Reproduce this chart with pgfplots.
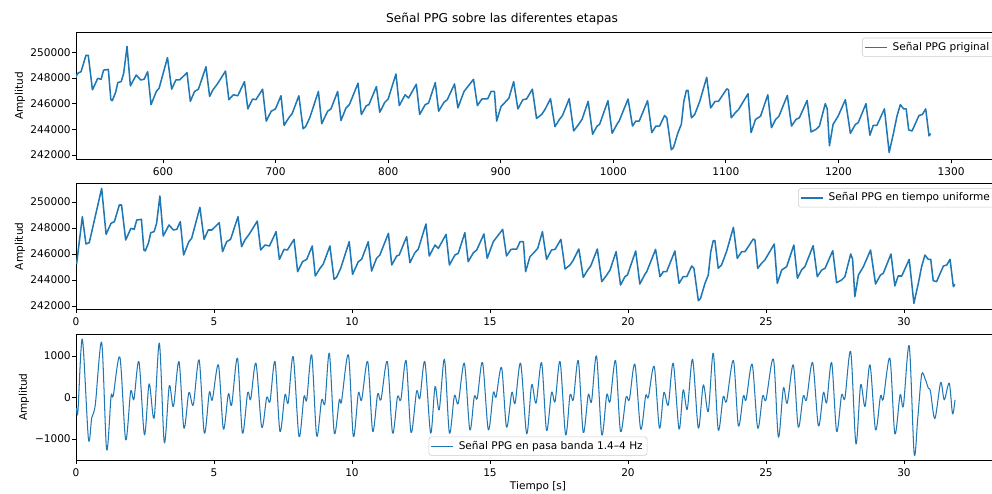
\documentclass[border=0pt]{standalone}
\usepackage{fontspec}
\setmainfont{DejaVu Sans}
\usepackage{pgfplots}
\usepackage{pgfplotstable}
\pgfplotsset{compat=1.18}
\definecolor{mplblue}{HTML}{1F77B4}

\pgfplotstableread{
t v
0.02 245205
0.23 248872
0.36 246769
0.48 246872
0.93 251051
1.09 247513
1.27 248359
1.39 248487
1.57 249769
1.65 249769
1.80 247077
1.99 247974
2.11 247897
2.20 248615
2.37 248667
2.46 246308
2.51 246231
2.63 246872
2.71 247641
2.83 247718
2.92 248359
3.04 250461
3.16 247384
3.37 248231
3.53 247846
3.65 247897
3.78 248487
3.90 245923
4.09 246949
4.19 247205
4.49 249590
4.64 247128
4.79 247846
4.92 247846
5.07 248154
5.19 248410
5.31 246180
5.46 246949
5.60 247128
5.87 248872
6.00 246564
6.12 247077
6.28 247538
6.57 248538
6.69 246308
6.85 246692
7.01 246615
7.25 247718
7.37 245590
7.54 246359
7.66 246308
7.90 247128
8.03 244641
8.21 245410
8.36 245590
8.56 246615
8.67 244308
8.84 244897
8.96 245231
9.20 246615
9.35 244051
9.44 244205
9.59 244897
9.90 246949
10.02 244436
10.23 245410
10.35 245590
10.59 246949
10.71 244692
10.89 245667
11.01 245923
11.32 247590
11.44 245154
11.62 245846
11.71 245923
11.98 247333
12.10 245333
12.28 246102
12.40 246359
12.68 248308
12.80 245846
13.01 246692
13.13 246436
13.41 247513
13.53 245154
13.73 245923
13.85 246051
14.09 247641
14.21 245410
14.40 246102
14.52 246308
14.78 247538
14.90 245667
15.12 246949
15.46 247897
15.60 245846
15.76 246359
15.97 246385
16.09 246949
16.21 246949
16.29 244641
16.45 245795
16.57 246051
16.73 246436
16.90 247718
17.05 245590
17.23 246308
17.36 246359
17.57 247128
17.72 244846
17.90 245154
18.02 245538
18.22 246385
18.38 244205
18.54 244769
18.65 245077
18.89 246385
19.05 243872
19.23 244385
19.35 244769
19.57 246179
19.73 243615
19.89 244256
19.98 244385
20.28 246231
20.43 243692
20.62 244462
20.68 244641
21.00 246359
21.16 244256
21.28 244641
21.40 244641
21.70 246231
21.85 243744
22.00 244256
22.13 244256
22.31 245077
22.39 244897
22.55 242410
22.63 242590
22.79 243744
22.91 244385
23.00 246179
23.09 247025
23.15 247025
23.27 244897
23.39 245154
23.57 246179
23.82 248051
23.96 245666
24.12 246179
24.24 246179
24.54 247154
24.60 247077
24.70 244897
24.84 245282
24.96 245538
25.30 246769
25.41 243744
25.57 244769
25.75 245026
26.01 246692
26.14 244128
26.29 244769
26.41 245026
26.71 246641
26.86 244256
27.02 244769
27.14 244897
27.42 246256
27.56 243795
27.74 243999
27.86 244256
28.07 245999
28.14 245590
28.22 242718
28.35 244385
28.53 245026
28.79 246308
28.97 243692
29.15 244385
29.25 244513
29.53 245999
29.67 243538
29.79 244308
29.92 244308
30.19 245590
30.36 242205
30.52 243744
30.64 245026
30.76 245923
30.88 245590
30.97 245590
31.06 243949
31.18 243872
31.43 245077
31.55 245154
31.67 245590
31.79 243487
31.85 243666
}\ppg

\pgfplotstableread{
t v
0.02 -257
0.07 -337
0.23 1405
0.45 -996
0.57 -490
0.70 -170
0.93 1325
1.11 -1261
1.27 24
1.35 40
1.59 972
1.80 -1020
1.98 145
2.10 -40
2.28 867
2.48 -900
2.65 329
2.83 -498
3.02 1309
3.20 -1084
3.38 281
3.53 -217
3.73 867
3.91 -739
4.09 120
4.25 -177
4.46 908
4.65 -859
4.83 120
4.94 -56
5.16 787
5.34 -763
5.52 88
5.64 -177
5.85 948
6.03 -859
6.22 120
6.33 -40
6.52 827
6.73 -715
6.91 8
7.03 -96
7.21 867
7.39 -819
7.57 64
7.69 -120
7.87 988
8.08 -940
8.26 24
8.36 -56
8.54 1028
8.72 -924
8.90 -56
9.02 -137
9.18 1068
9.36 -859
9.54 -56
9.62 -96
9.87 1028
10.05 -940
10.23 104
10.35 -56
10.57 867
10.75 -819
10.93 88
11.05 -56
11.28 867
11.47 -859
11.65 24
11.77 -56
11.96 892
12.14 -843
12.34 145
12.46 -16
12.64 867
12.85 -859
13.01 265
13.16 -297
13.35 924
13.53 -859
13.71 40
13.85 -137
14.07 827
14.27 -779
14.43 24
14.54 -16
14.73 843
14.94 -779
15.12 120
15.22 8
15.42 723
15.60 -715
15.79 120
15.91 -137
16.11 827
16.33 -875
16.51 305
16.67 -137
16.87 843
17.05 -795
17.23 120
17.36 -96
17.54 867
17.74 -900
17.90 64
18.02 -56
18.20 892
18.38 -843
18.56 64
18.68 -96
18.86 1004
19.05 -900
19.23 64
19.35 -96
19.55 892
19.73 -819
19.93 8
20.05 -56
20.25 803
20.46 -763
20.64 40
20.74 8
20.95 747
21.14 -739
21.30 120
21.46 -177
21.64 827
21.85 -763
22.00 185
22.15 -281
22.34 924
22.55 -739
22.73 305
22.91 -337
23.09 1068
23.27 -779
23.45 24
23.57 -96
23.82 892
24.00 -683
24.18 40
24.28 -56
24.50 803
24.70 -739
24.88 40
25.00 -56
25.27 924
25.45 -956
25.63 225
25.77 -137
25.99 787
26.17 -715
26.35 40
26.47 -56
26.69 843
26.90 -683
27.08 120
27.20 -120
27.38 843
27.56 -819
27.74 64
27.86 -16
28.07 1108
28.26 -1116
28.43 305
28.59 -217
28.77 787
28.97 -779
29.15 40
29.25 -40
29.49 948
29.67 -875
29.86 64
29.98 -201
30.19 1245
30.37 -1357
30.50 -500
30.64 550
30.76 460
30.88 230
30.96 150
31.12 -510
31.33 361
31.46 -56
31.64 345
31.76 -394
31.85 -56
}\bp

\pgfplotsset{
  ppgaxis/.style={
    scale only axis, width=665.28pt,
    anchor=south west,
    axis line style={line width=0.6pt},
    tick style={black, line width=0.6pt},
    tick align=outside, major tick length=2.8pt,
    tick pos=left,
    tick label style={font=\fontsize{7.6}{9}\selectfont},
    xticklabel style={inner ysep=3.2pt},
    yticklabel style={inner xsep=0.8pt},
    label style={font=\fontsize{7.6}{9}\selectfont},
    /pgf/number format/.cd, fixed, precision=0, 1000 sep={}, assume math mode=true,
    /pgfplots/.cd,
    scaled x ticks=false, scaled y ticks=false,
    ylabel={Amplitud},
    ylabel style={at={(axis description cs:-0.0606,0.5)}, anchor=center},
    legend style={font=\fontsize{7.6}{9}\selectfont, draw=black!20,
      rounded corners=2pt, fill=white, fill opacity=0.8, text opacity=1,
      inner xsep=1.5pt, inner ysep=1.2pt,
      nodes={inner xsep=1.7pt, inner ysep=1.8pt}},
    legend cell align=left,
  },
  thicklegend/.style={legend image code/.code={\draw[mplblue, line width=1.1pt] (0pt,0pt) -- (15.8pt,0pt); \path (17.6pt,0pt);}},
  thinlegend/.style={legend image code/.code={\draw[mplblue, line width=0.75pt] (0pt,0pt) -- (15.8pt,0pt); \path (17.6pt,0pt);}},
}

\begin{document}
\begin{tikzpicture}
\node[anchor=base, font=\fontsize{8.8}{10}\selectfont] at (361.44pt,339.55pt) {Señal PPG sobre las diferentes etapas};

\begin{axis}[ppgaxis, thicklegend, at={(54.72pt,240.98pt)}, height=91.15pt,
  xmin=522.7, xmax=1343.5, ymin=241665, ymax=251527,
  xtick={600,700,...,1300},
  ytick={242000,244000,...,250000},
  legend style={at={(0.8506,1)}, anchor=north west, yshift=-3.6pt},
]
\addplot[mplblue, line width=1.1pt, line join=round] table[x expr=492.7+24.78*\thisrow{t}, y=v] {\ppg};
\addlegendentry{Señal PPG priginal}
\end{axis}

\begin{axis}[ppgaxis, thicklegend, at={(54.72pt,132.98pt)}, height=90.72pt,
  xmin=0, xmax=33.48, ymin=241746, ymax=251438,
  xtick={0,5,...,30},
  ytick={242000,244000,...,250000},
  legend style={at={(0.7814,1)}, anchor=north west, yshift=-3.6pt},
]
\addplot[mplblue, line width=1.1pt, line join=round] table[x=t, y=v] {\ppg};
\addlegendentry{Señal PPG en tiempo uniforme}
\end{axis}

\begin{axis}[ppgaxis, thinlegend, at={(54.72pt,24.26pt)}, height=90.94pt,
  xmin=0, xmax=33.48, ymin=-1513, ymax=1530,
  xtick={0,5,...,30},
  ytick={-1000,0,1000}, yticklabels={\mbox{−1000},\mbox{0},\mbox{1000}},
  ylabel style={at={(axis description cs:-0.0563,0.5)}, anchor=center},
  xlabel={Tiempo [s]},
  xlabel style={at={(axis description cs:0.5,-0.235)}, anchor=base},
  legend style={at={(0.5,0)}, anchor=south, yshift=3.3pt},
]
\addplot[mplblue, line width=0.75pt, smooth, line join=round] table[x=t, y=v] {\bp};
\addlegendentry{Señal PPG en pasa banda 1.4–4 Hz}
\end{axis}

\pgfresetboundingbox
\path[use as bounding box] (0pt,0pt) rectangle (714.24pt,355.68pt);
\end{tikzpicture}
\end{document}
